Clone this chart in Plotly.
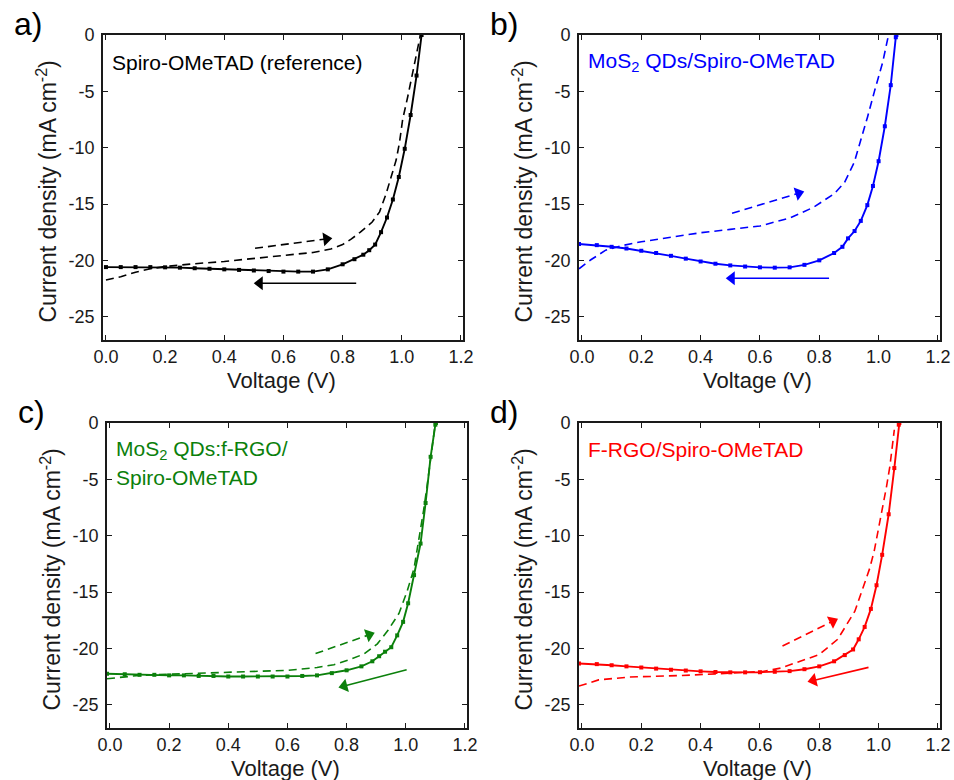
import plotly.graph_objects as go

# ---------------- data ----------------
# Panel a: Spiro-OMeTAD (reference)
a_rev_v = [0.00, 0.05, 0.10, 0.15, 0.20, 0.25, 0.30, 0.35, 0.40, 0.45, 0.50, 0.55, 0.60, 0.65, 0.70,
           0.75, 0.80, 0.84, 0.87, 0.89, 0.91, 0.93, 0.95, 0.97, 0.99, 1.01, 1.03, 1.05, 1.067]
a_rev_j = [-20.6, -20.6, -20.6, -20.6, -20.62, -20.65, -20.7, -20.75, -20.8, -20.85, -20.9, -20.95, -21.0, -21.0, -21.0,
           -20.8, -20.35, -19.9, -19.5, -19.1, -18.6, -17.5, -16.2, -14.6, -12.6, -10.1, -7.1, -3.6, 0.0]
a_fwd_v = [0.00, 0.05, 0.10, 0.15, 0.20, 0.25, 0.30, 0.40, 0.50, 0.60, 0.70, 0.76, 0.80, 0.83, 0.86,
           0.90, 0.925, 0.947, 0.964, 0.981, 0.992, 1.003, 1.02, 1.037, 1.054, 1.063]
a_fwd_j = [-21.75, -21.45, -21.05, -20.75, -20.55, -20.4, -20.3, -20.1, -19.85, -19.6, -19.3, -19.0, -18.6, -18.1, -17.5,
           -16.6, -15.7, -14.1, -12.6, -11.1, -9.6, -7.5, -5.5, -3.4, -1.0, 0.0]
a_arrow_fwd_v = [0.504, 0.745]
a_arrow_fwd_j = [-18.93, -18.1]
a_arrow_rev_v = [0.846, 0.52]
a_arrow_rev_j = [-22.03, -22.03]

# Panel b: MoS2 QDs/Spiro-OMeTAD
b_rev_v = [-0.01, 0.05, 0.10, 0.15, 0.20, 0.25, 0.30, 0.35, 0.40, 0.45, 0.50, 0.55, 0.60, 0.65, 0.70,
           0.75, 0.80, 0.85, 0.878, 0.897, 0.919, 0.94, 0.962, 0.981, 1.0, 1.021, 1.041, 1.058, 1.06]
b_rev_j = [-18.55, -18.65, -18.8, -18.95, -19.15, -19.35, -19.6, -19.85, -20.1, -20.3, -20.45, -20.55, -20.62, -20.65, -20.62,
           -20.4, -20.0, -19.35, -18.8, -18.05, -17.4, -16.5, -15.1, -13.4, -11.2, -8.1, -4.45, -0.2, 0.0]
b_fwd_v = [-0.01, 0.03, 0.08, 0.13, 0.20, 0.30, 0.40, 0.50, 0.60, 0.70, 0.78, 0.85, 0.885, 0.918, 0.941,
           0.963, 0.986, 1.014, 1.031, 1.033]
b_fwd_j = [-20.75, -19.95, -19.1, -18.72, -18.35, -17.95, -17.55, -17.25, -16.95, -16.25, -15.3, -14.1, -13.1, -11.3, -9.3,
           -7.25, -5.0, -2.4, -0.3, 0.0]
b_arrow_fwd_v = [0.506, 0.73]
b_arrow_fwd_j = [-15.82, -14.05]
b_arrow_rev_v = [0.833, 0.505]
b_arrow_rev_j = [-21.59, -21.59]

# Panel c: MoS2 QDs:f-RGO/Spiro-OMeTAD
c_rev_v = [-0.01, 0.05, 0.10, 0.15, 0.20, 0.25, 0.30, 0.35, 0.40, 0.45, 0.50, 0.55, 0.60, 0.65, 0.70,
           0.75, 0.80, 0.85, 0.887, 0.91, 0.93, 0.951, 0.971, 0.991, 1.008, 1.028, 1.05, 1.067, 1.084, 1.10, 1.102]
c_rev_j = [-22.25, -22.3, -22.35, -22.35, -22.4, -22.4, -22.45, -22.45, -22.5, -22.5, -22.5, -22.5, -22.5, -22.45, -22.4,
           -22.2, -21.95, -21.6, -21.15, -20.7, -20.3, -19.9, -18.85, -17.65, -16.0, -13.5, -10.7, -7.1, -3.0, -0.15, 0.0]
c_fwd_v = [-0.01, 0.05, 0.10, 0.20, 0.30, 0.40, 0.50, 0.60, 0.70, 0.757, 0.81, 0.859, 0.904, 0.94, 0.977,
           1.005, 1.028, 1.045, 1.06, 1.072, 1.085, 1.095, 1.10]
c_fwd_j = [-22.7, -22.55, -22.4, -22.3, -22.2, -22.15, -22.05, -21.95, -21.7, -21.45, -21.0, -20.5, -19.6, -18.4, -16.9,
           -14.9, -12.9, -10.3, -7.8, -5.6, -3.2, -1.0, 0.0]
c_arrow_fwd_v = [0.695, 0.876]
c_arrow_fwd_j = [-20.46, -18.8]
c_arrow_rev_v = [1.003, 0.792]
c_arrow_rev_j = [-21.9, -23.35]

# Panel d: F-RGO/Spiro-OMeTAD
d_rev_v = [-0.01, 0.05, 0.10, 0.15, 0.20, 0.25, 0.30, 0.35, 0.40, 0.45, 0.50, 0.55, 0.60, 0.65, 0.70,
           0.75, 0.80, 0.85, 0.886, 0.914, 0.933, 0.953, 0.974, 0.993, 1.012, 1.034, 1.053, 1.068, 1.07]
d_rev_j = [-21.35, -21.4, -21.5, -21.6, -21.7, -21.8, -21.9, -21.97, -22.04, -22.1, -22.13, -22.13, -22.12, -22.08, -22.02,
           -21.85, -21.6, -21.15, -20.6, -20.1, -19.2, -18.1, -16.5, -14.4, -11.7, -8.1, -4.0, -0.15, 0.0]
d_fwd_v = [-0.01, 0.056, 0.158, 0.327, 0.50, 0.61, 0.67, 0.721, 0.80, 0.862, 0.891, 0.92, 0.953, 0.97, 0.985,
           1.004, 1.015, 1.027, 1.038, 1.049, 1.053]
d_fwd_j = [-23.35, -22.8, -22.55, -22.42, -22.2, -22.05, -21.75, -21.3, -20.55, -19.2, -18.0, -16.7, -14.2, -12.9, -11.4,
           -8.9, -7.25, -5.6, -3.85, -1.5, -0.6]
d_arrow_fwd_v = [0.676, 0.845]
d_arrow_fwd_j = [-19.8, -17.6]
d_arrow_rev_v = [0.966, 0.78]
d_arrow_rev_j = [-21.69, -22.85]

panel_letters = ["a)", "b)", "c)", "d)"]
panel_labels = ["Spiro-OMeTAD (reference)", "MoS<sub>2</sub> QDs/Spiro-OMeTAD",
                "MoS<sub>2</sub> QDs:f-RGO/", "F-RGO/Spiro-OMeTAD"]
panel_label_c2 = "Spiro-OMeTAD"
colors = ["#000000", "#0000ff", "#0b800b", "#ff0000"]

x_tickvals = [0.0, 0.2, 0.4, 0.6, 0.8, 1.0, 1.2]
x_ticktext = ["0.0", "0.2", "0.4", "0.6", "0.8", "1.0", "1.2"]
y_tickvals = [0, -5, -10, -15, -20, -25]
y_ticktext = ["0", "-5", "-10", "-15", "-20", "-25"]
x_title = "Voltage (V)"
y_title = "Current density (mA cm<sup>-2</sup>)"

# ---------------- layout geometry (pixels) ----------------
W, H = 954, 780
FONT = "Arial, Liberation Sans, sans-serif"
boxes = [  # left, right, top, bottom in px
    (103, 463, 35, 340),
    (579, 940, 35, 340),
    (107, 467, 423, 728),
    (579, 940, 423, 728),
]

def px(x):
    return x / W

def py(y):
    return (H - y) / H

fig = go.Figure()

panels = [
    (a_rev_v, a_rev_j, a_fwd_v, a_fwd_j, a_arrow_fwd_v, a_arrow_fwd_j, a_arrow_rev_v, a_arrow_rev_j),
    (b_rev_v, b_rev_j, b_fwd_v, b_fwd_j, b_arrow_fwd_v, b_arrow_fwd_j, b_arrow_rev_v, b_arrow_rev_j),
    (c_rev_v, c_rev_j, c_fwd_v, c_fwd_j, c_arrow_fwd_v, c_arrow_fwd_j, c_arrow_rev_v, c_arrow_rev_j),
    (d_rev_v, d_rev_j, d_fwd_v, d_fwd_j, d_arrow_fwd_v, d_arrow_fwd_j, d_arrow_rev_v, d_arrow_rev_j),
]

annotations = []
for i, (rv, rj, fv, fj, afv, afj, arv, arj) in enumerate(panels):
    n = i + 1
    xa = "x" if n == 1 else f"x{n}"
    ya = "y" if n == 1 else f"y{n}"
    col = colors[i]
    # forward scan (dashed)
    fig.add_trace(go.Scatter(x=fv, y=fj, mode="lines", xaxis=xa, yaxis=ya,
                             line=dict(color=col, width=1.6, dash="8px,5px"),
                             showlegend=False, hoverinfo="skip"))
    # reverse scan (solid with markers)
    fig.add_trace(go.Scatter(x=rv, y=rj, mode="lines+markers", xaxis=xa, yaxis=ya,
                             line=dict(color=col, width=1.9),
                             marker=dict(symbol="square", size=4, color=col),
                             showlegend=False, hoverinfo="skip"))
    # arrows
    for av, aj, dash in ((afv, afj, "8px,5px"), (arv, arj, "solid")):
        fig.add_trace(go.Scatter(x=av, y=aj, mode="lines+markers", xaxis=xa, yaxis=ya,
                                 line=dict(color=col, width=1.6, dash=dash),
                                 marker=dict(symbol="triangle-up", size=[0, 12], color=col,
                                             opacity=[0, 1], angleref="previous",
                                             line=dict(width=0)),
                                 showlegend=False, hoverinfo="skip"))

    l, r, t, b = boxes[i]
    axis_common = dict(showline=True, linecolor="#1a1a1a", linewidth=1.6, mirror="ticks",
                       ticks="inside", ticklen=5, tickwidth=1.4, tickcolor="#1a1a1a",
                       showgrid=False, zeroline=False, automargin=False,
                       tickfont=dict(family=FONT, size=18, color="#1a1a1a"))
    fig.update_layout(**{
        ("xaxis" if n == 1 else f"xaxis{n}"): dict(
            domain=[px(l), px(r)], anchor=ya, range=[-0.01, 1.207],
            tickvals=x_tickvals, ticktext=x_ticktext, **axis_common),
        ("yaxis" if n == 1 else f"yaxis{n}"): dict(
            domain=[py(b), py(t)], anchor=xa, range=[-27.07, 0],
            tickvals=y_tickvals, ticktext=y_ticktext, ticklabelstandoff=3, **axis_common),
    })

    # panel letter
    annotations.append(dict(text=panel_letters[i], xref="paper", yref="paper",
                            x=px(l - 91), y=py(t - 11), xanchor="left", yanchor="middle",
                            showarrow=False, font=dict(family=FONT, size=32, color="#000000")))
    # axis titles
    annotations.append(dict(text=x_title, xref="paper", yref="paper",
                            x=px((l + r) / 2 - 2), y=py(b + 40), xanchor="center", yanchor="middle",
                            showarrow=False, font=dict(family=FONT, size=22, color="#1a1a1a")))
    annotations.append(dict(text=y_title, xref="paper", yref="paper",
                            x=px(l - 57), y=py((t + b) / 2 + 4), xanchor="center", yanchor="middle",
                            textangle=-90, showarrow=False,
                            font=dict(family=FONT, size=23, color="#1a1a1a")))
    # curve label
    annotations.append(dict(text=panel_labels[i], xref="paper", yref="paper",
                            x=px(l + 7), y=py(t + 27), xanchor="left", yanchor="middle",
                            showarrow=False, font=dict(family=FONT, size=21, color=col)))
    if i == 2:
        annotations.append(dict(text=panel_label_c2, xref="paper", yref="paper",
                                x=px(l + 7), y=py(t + 54), xanchor="left", yanchor="middle",
                                showarrow=False, font=dict(family=FONT, size=21, color=col)))

fig.update_layout(template="none", width=W, height=H, margin=dict(l=0, r=0, t=0, b=0, pad=0),
                  paper_bgcolor="white", plot_bgcolor="white",
                  annotations=annotations, showlegend=False)

fig.write_html("out.html")
